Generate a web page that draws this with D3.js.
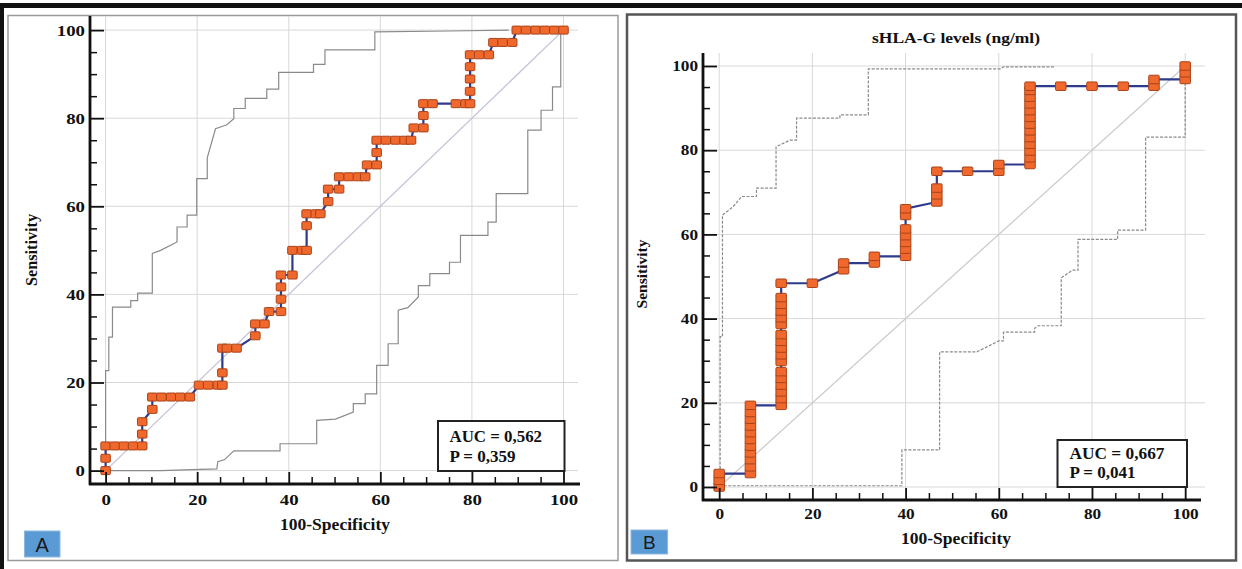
<!DOCTYPE html>
<html><head><meta charset="utf-8">
<script src="https://cdn.jsdelivr.net/npm/d3@7"></script>
<style>body{margin:0;background:#fff}svg{display:block}</style>
</head><body>
<svg id="c" width="1242" height="569"></svg>
<script>
// ---------- DATA ----------
const majorTicks = [0, 20, 40, 60, 80, 100];
const minorTicks = [5, 10, 15, 25, 30, 35, 45, 50, 55, 65, 70, 75, 85, 90, 95];
const gridLines = [0, 20, 40, 60, 80, 100];

// Panel A : ROC points (100-Specificity, Sensitivity)
const rocA_x = [0,0,0,2,4,6,8,8,8,10.2,10.2,12.2,14.3,16.3,18.4,20.4,22.4,24.5,25.5,25.5,25.5,26.5,28.6,32.7,32.7,34.7,35.7,38.3,38.3,38.3,38.3,40.8,40.8,42.9,43.9,43.9,43.9,45.9,46.9,48.6,48.6,51,51,53.1,55.1,56.7,57.1,59.2,59.2,59.2,61.2,63.3,65.3,66.7,67.3,69.4,69.4,69.4,71.4,76.5,78.6,79.6,79.6,79.6,79.6,79.6,81.6,83.7,84.7,86.7,88.8,89.8,91.8,93.9,95.9,98,100];
const rocA_y = [0,2.8,5.6,5.6,5.6,5.6,5.6,8.3,11.1,13.9,16.7,16.7,16.7,16.7,16.7,19.4,19.4,19.4,19.4,22.2,27.8,27.8,27.8,30.6,33.3,33.3,36.1,36.1,38.9,41.7,44.4,44.4,50,50,50,55.6,58.3,58.3,58.3,61.1,63.9,63.9,66.7,66.7,66.7,66.7,69.4,69.4,72.2,75,75,75,75,75,77.8,77.8,80.6,83.3,83.3,83.3,83.3,83.3,86.1,88.9,91.7,94.4,94.4,94.4,97.2,97.2,97.2,100,100,100,100,100,100];

// Panel A : confidence bounds
const upA_x = [0,0,0.7,0.7,1.5,1.5,5.5,5.5,7,7,10.2,10.2,12,15.6,15.6,17.8,17.8,19.9,19.9,22.2,22.2,24,26.5,28,28,30.5,30.5,35.2,35.2,37.8,37.8,45.4,45.4,47.9,47.9,58.8,58.8,75,88];
const upA_y = [0,22.7,22.7,30.3,30.3,37.1,37.1,38.6,38.6,40.3,40.3,49.3,50,51.9,55.3,55.3,58,58,66.3,66.3,71,77.6,78.5,79.9,82.2,82.2,84.5,84.5,86.6,86.6,90.4,90.4,92.2,92.2,95.5,95.5,99.6,99.8,100];
const loA_x = [0,12,24.3,24.5,26,28,38.1,38.1,46.1,46.1,50.2,54.1,54.1,56.7,56.7,59.2,59.2,61.7,61.7,63.9,63.9,66,68.3,68.3,70.8,70.8,75.1,75.1,77.5,77.5,83.5,83.5,85.3,85.3,92.2,92.2,95.1,95.1,97.6,97.6,99.4,99.4];
const loA_y = [0,0,0.4,2,2.5,4.5,4.5,6.1,6.1,11.4,11.7,13.3,15.2,15.2,17.4,17.4,23.9,23.9,28.8,28.8,36.4,37,39.4,42,42,44.7,44.7,47.3,47.3,53.4,53.4,56.4,56.4,62.9,62.9,77.3,77.3,81.8,81.8,87.1,87.1,100];

// Panel B : ROC points
const rocB_x = [0,0,0,6.7,6.7,6.7,6.7,6.7,6.7,6.7,6.7,6.7,6.7,6.7,13.3,13.3,13.3,13.3,13.3,13.3,13.3,13.3,13.3,13.3,13.3,13.3,13.3,13.3,13.3,13.3,13.3,20,26.7,26.7,33.3,33.3,40,40,40,40,40,40,40,46.7,46.7,46.7,46.7,53.3,60,60,66.7,66.7,66.7,66.7,66.7,66.7,66.7,66.7,66.7,66.7,66.7,66.7,66.7,73.3,80,86.7,93.3,93.3,100,100,100];
const rocB_y = [0,1.6,3.2,3.2,4.8,6.5,8.1,9.7,11.3,12.9,14.5,16.1,17.7,19.4,19.4,21,22.6,24.2,25.8,27.4,29.8,31.4,33,34.6,36.2,38.6,40.2,41.8,43.4,45,48.4,48.4,51.6,53.2,53.2,54.8,54.8,56.5,58.1,59.7,61.3,64.5,66.1,67.7,69.4,71,75,75,75,76.6,76.6,78.2,79.8,81.4,83,84.6,86.2,87.8,89.4,91,92.6,94.2,95.2,95.2,95.2,95.2,95.2,96.8,96.8,98.4,100];

// Panel B : confidence bounds
const upB_x = [0.2,0.2,0.7,0.7,1.2,3,4.8,8,8,12.2,12.2,15.2,16.6,16.6,25.9,25.9,32,32,60.4,61,71.9];
const upB_y = [0,35.7,35.7,64.6,65,66.6,69,69,71,71,80.8,82.4,82.4,87.6,87.6,88.4,88.4,99.3,99.3,99.8,99.8];
const loB_x = [0,39.2,39.2,47.3,47.3,55.3,60,61,61,67.7,67.7,68.5,73.4,73.4,75.8,77,77,85.5,85.5,91.5,91.5,100,100];
const loB_y = [0.3,0.3,8.8,8.8,32.1,32.1,34.7,34.7,36.8,36.8,37.7,38.3,38.3,49.7,51.5,51.5,58.8,58.8,61,61,83.1,83.1,96.8];

const titleB = "sHLA-G levels (ng/ml)";
const statsA = ["AUC = 0,562", "P = 0,359"];
const statsB = ["AUC = 0,667", "P = 0,041"];
const xLabel = "100-Specificity";
const yLabel = "Sensitivity";

// ---------- DRAW ----------
const svg = d3.select('#c');
const SERIF = "'Liberation Serif','Times New Roman',serif";

// outer frame pieces
svg.append('rect').attr('x', 0).attr('y', 3).attr('width', 1242).attr('height', 5).attr('fill', '#111');
svg.append('rect').attr('x', 0).attr('y', 3).attr('width', 4).attr('height', 566).attr('fill', '#111');
svg.append('rect').attr('x', 8).attr('y', 15.5).attr('width', 610).attr('height', 545)
  .attr('fill', 'none').attr('stroke', '#9a9a9a').attr('stroke-width', 1.5);
svg.append('rect').attr('x', 627).attr('y', 14.5).attr('width', 609).attr('height', 546)
  .attr('fill', 'none').attr('stroke', '#555').attr('stroke-width', 2.5);

function txt(g, s, x, y, size, len, anchor, extra) {
  const t = g.append('text').attr('x', x).attr('y', y).text(s)
    .attr('font-family', SERIF).attr('font-weight', 'bold').attr('font-size', size)
    .attr('fill', '#111').attr('text-anchor', anchor || 'start');
  if (len) t.attr('textLength', len).attr('lengthAdjust', 'spacingAndGlyphs');
  if (extra) t.attr('transform', extra);
  return t;
}

function drawPanel(p) {
  const g = svg.append('g');
  const x = d3.scaleLinear().domain([0, 100]).range(p.xr);
  const y = d3.scaleLinear().domain([0, 100]).range(p.yr);

  // grid
  g.selectAll('line.vg').data(gridLines).join('line').attr('class', 'vg')
    .attr('x1', d => x(d)).attr('x2', d => x(d)).attr('y1', p.gridTop).attr('y2', p.axisY)
    .attr('stroke', '#d8d8d8').attr('stroke-width', 1);
  g.selectAll('line.hg').data(gridLines).join('line').attr('class', 'hg')
    .attr('y1', d => y(d)).attr('y2', d => y(d)).attr('x1', p.axisX0).attr('x2', p.gridRight)
    .attr('stroke', '#d8d8d8').attr('stroke-width', 1);

  // diagonal
  g.append('line').attr('x1', x(0)).attr('y1', y(0)).attr('x2', x(100)).attr('y2', y(100))
    .attr('stroke', p.diag).attr('stroke-width', 1.3);

  const line = d3.line().x(d => x(d[0])).y(d => y(d[1]));
  [[p.ux, p.uy], [p.lx, p.ly]].forEach(([bx, by]) => {
    g.append('path').datum(bx.map((v, i) => [v, by[i]])).attr('d', line)
      .attr('fill', 'none').attr('stroke', '#8a8a8a').attr('stroke-width', 1.2)
      .attr('stroke-dasharray', p.dash);
  });

  // ROC line + markers
  const pts = p.rx.map((v, i) => [v, p.ry[i]]);
  g.append('path').datum(pts).attr('d', line).attr('fill', 'none')
    .attr('stroke', '#2e3a8c').attr('stroke-width', 2.2);
  g.selectAll('rect.m').data(pts).join('rect').attr('class', 'm')
    .attr('x', d => x(d[0]) - p.mw / 2).attr('y', d => y(d[1]) - p.mh / 2)
    .attr('width', p.mw).attr('height', p.mh).attr('rx', 1)
    .attr('fill', '#f0682c').attr('stroke', '#a8431c').attr('stroke-width', 1);

  // axes lines
  g.append('line').attr('x1', p.axisX0).attr('x2', p.axisX0).attr('y1', p.axisTop).attr('y2', p.axisY + 1)
    .attr('stroke', '#111').attr('stroke-width', 2.8);
  g.append('line').attr('x1', p.axisX0 - 1).attr('x2', p.axisRight).attr('y1', p.axisY).attr('y2', p.axisY)
    .attr('stroke', '#111').attr('stroke-width', 2.8);

  // y ticks
  const ya = g.append('g').attr('transform', `translate(${p.axisX0},0)`)
    .call(d3.axisLeft(y).tickValues(majorTicks).tickSize(-14).tickPadding(5).tickFormat(d => String(d)));
  ya.select('.domain').remove();
  ya.selectAll('line').attr('stroke', '#111').attr('stroke-width', 1.8);
  ya.selectAll('text').attr('font-family', SERIF).attr('font-weight', 'bold')
    .attr('font-size', p.tickFont).attr('fill', '#111')
    .attr('textLength', d => String(d).length * p.digitW).attr('lengthAdjust', 'spacingAndGlyphs');
  const ym = g.append('g').attr('transform', `translate(${p.axisX0},0)`)
    .call(d3.axisRight(y).tickValues(minorTicks).tickSize(7).tickFormat(''));
  ym.select('.domain').remove();
  ym.selectAll('line').attr('stroke', '#111').attr('stroke-width', 1.5);

  // x ticks
  const xa = g.append('g').attr('transform', `translate(0,${p.axisY})`)
    .call(d3.axisBottom(x).tickValues(majorTicks).tickSize(-12).tickPadding(p.xPad).tickFormat(d => String(d)));
  xa.select('.domain').remove();
  xa.selectAll('line').attr('stroke', '#111').attr('stroke-width', 1.8);
  xa.selectAll('text').attr('font-family', SERIF).attr('font-weight', 'bold')
    .attr('font-size', p.tickFont).attr('fill', '#111')
    .attr('textLength', d => String(d).length * p.digitW).attr('lengthAdjust', 'spacingAndGlyphs');
  const xm = g.append('g').attr('transform', `translate(0,${p.axisY})`)
    .call(d3.axisBottom(x).tickValues(minorTicks).tickSize(-7).tickFormat(''));
  xm.select('.domain').remove();
  xm.selectAll('line').attr('stroke', '#111').attr('stroke-width', 1.5);

  // axis titles
  txt(g, xLabel, p.xLab[0], p.xLab[1], 16.5, 110, 'middle');
  txt(g, yLabel, 0, 0, p.yLabFont, p.yLab[2], 'middle', `translate(${p.yLab[0]},${p.yLab[1]}) rotate(-90)`);

  // stats box
  g.append('rect').attr('x', p.box[0]).attr('y', p.box[1]).attr('width', p.box[2]).attr('height', p.box[3])
    .attr('fill', '#fff').attr('stroke', '#222').attr('stroke-width', 2);
  txt(g, p.stats[0], p.statX, p.statY[0], 16, p.statW[0]);
  txt(g, p.stats[1], p.statX, p.statY[1], 16, p.statW[1]);

  // panel letter
  g.append('rect').attr('x', p.tag[0]).attr('y', p.tag[1]).attr('width', p.tag[2]).attr('height', p.tag[3])
    .attr('fill', '#5b9bd5').attr('stroke', '#8fb8e0').attr('stroke-width', 1);
  g.append('text').attr('x', p.tag[0] + p.tag[2] / 2).attr('y', p.tag[1] + p.tag[3] - 5)
    .attr('text-anchor', 'middle').attr('font-family', "'Liberation Sans',Arial,sans-serif")
    .attr('font-size', p.tagFont).attr('fill', '#1a1a1a').text(p.letter);

  if (p.title) txt(g, p.title, p.titlePos[0], p.titlePos[1], 15.5, 168, 'middle');
}

drawPanel({
  xr: [105.6, 563.5], yr: [470.6, 30.1],
  axisX0: 90, axisY: 484, axisTop: 16, axisRight: 580, gridRight: 578, gridTop: 16,
  diag: '#c6c3d8', dash: null,
  ux: upA_x, uy: upA_y, lx: loA_x, ly: loA_y,
  rx: rocA_x, ry: rocA_y, mw: 9.5, mh: 8,
  tickFont: 15.5, digitW: 9.4, xPad: 10,
  xLab: [335, 530], yLab: [37, 250, 72], yLabFont: 16,
  box: [438, 421, 126.5, 50], stats: statsA, statX: 449.5, statY: [441.5, 461.5], statW: [92.5, 66],
  tag: [24.5, 531, 35.5, 26], tagFont: 20, letter: 'A'
});

drawPanel({
  xr: [719.2, 1185.2], yr: [487, 66],
  axisX0: 703, axisY: 500, axisTop: 53, axisRight: 1201, gridRight: 1205, gridTop: 53,
  diag: '#cccccc', dash: '3,1.5',
  ux: upB_x, uy: upB_y, lx: loB_x, ly: loB_y,
  rx: rocB_x, ry: rocB_y, mw: 10.5, mh: 8.5,
  tickFont: 14.5, digitW: 8.6, xPad: 9,
  xLab: [956, 544], yLab: [646.5, 274, 69], yLabFont: 15.5,
  box: [1057.5, 440, 129.5, 47], stats: statsB, statX: 1069.5, statY: [459, 478], statW: [95, 66],
  tag: [631, 530, 36.6, 24], tagFont: 19, letter: 'B',
  title: titleB, titlePos: [956, 43]
});
</script>
</body></html>
